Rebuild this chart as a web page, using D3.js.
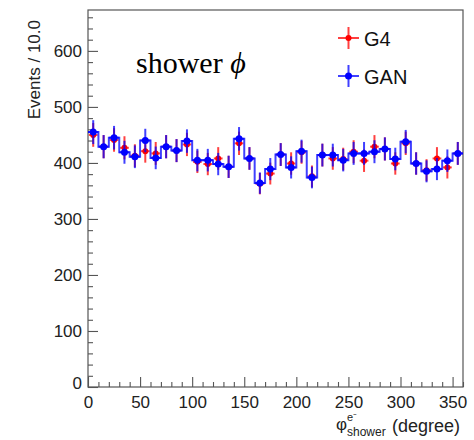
<!DOCTYPE html>
<html>
<head>
<meta charset="utf-8">
<script src="https://cdn.jsdelivr.net/npm/d3@7"></script>
<style>
  html, body { margin: 0; padding: 0; background: #fff; }
  svg { display: block; }
</style>
</head>
<body>
<svg id="chart" width="474" height="440"></svg>
<script>
// Bin edges: 36 bins of 10 degrees over [0, 360)
const binLowEdges = d3.range(0, 360, 10);
const binWidth = 10;

// Events per bin
const g4Counts  = [450, 429, 441, 427, 413, 421, 417, 429, 422, 433, 402, 398,
                   408, 393, 435, 408, 363, 381, 415, 399, 419, 376, 414, 408,
                   407, 420, 404, 429, 425, 399, 435, 399, 387, 408, 392, 417];
const ganCounts = [455, 429, 445, 419, 411, 440, 409, 429, 422, 439, 405, 405,
                   398, 393, 443, 408, 364, 389, 415, 392, 421, 374, 414, 414,
                   405, 417, 417, 420, 425, 407, 438, 399, 385, 389, 404, 417];

const xTicks = [0, 50, 100, 150, 200, 250, 300, 350];
const yTicks = [0, 100, 200, 300, 400, 500, 600];
const seriesNames = ["G4", "GAN"];

const W = 474, H = 440;
const margin = { left: 88, top: 10, right: 11, bottom: 53 };
const svg = d3.select("#chart");

const x = d3.scaleLinear().domain([0, 360]).range([margin.left, W - margin.right]);
const y = d3.scaleLinear().domain([0, 673]).range([H - margin.bottom, margin.top]);

const frameColor = "#555";
const sans = "'Liberation Sans', Arial, Helvetica, sans-serif";

// Frame
svg.append("rect")
  .attr("x", x(0)).attr("y", y(673))
  .attr("width", x(360) - x(0)).attr("height", y(0) - y(673))
  .attr("fill", "none").attr("stroke", frameColor).attr("stroke-width", 1.2);

// Axes with ticks pointing into the frame
const xAxis = d3.axisBottom(x).tickValues(xTicks).tickSize(-10).tickPadding(9)
  .tickFormat(d3.format("d"));
const gx = svg.append("g").attr("transform", `translate(0,${y(0)})`).call(xAxis);
const xMinor = d3.axisBottom(x).tickValues(d3.range(0, 361, 10).filter(v => v % 50 !== 0))
  .tickSize(-5).tickFormat("");
const gxm = svg.append("g").attr("transform", `translate(0,${y(0)})`).call(xMinor);

const yAxis = d3.axisLeft(y).tickValues(yTicks).tickSize(-10).tickPadding(6)
  .tickFormat(d3.format("d"));
const gy = svg.append("g").attr("transform", `translate(${x(0)},0)`).call(yAxis);
const yMinor = d3.axisLeft(y).tickValues(d3.range(0, 673, 20).filter(v => v % 100 !== 0))
  .tickSize(-5).tickFormat("");
const gym = svg.append("g").attr("transform", `translate(${x(0)},0)`).call(yMinor);

[gx, gxm, gy, gym].forEach(g => {
  g.select(".domain").remove();
  g.selectAll(".tick line").attr("stroke", frameColor).attr("stroke-width", 1.1);
  g.selectAll("text").attr("font-family", sans).attr("font-size", 17).attr("fill", "#222");
});
// The zero on the value axis sits a little low, as in ROOT
gy.selectAll(".tick").filter(d => d === 0).select("text").attr("dy", "0.1em");

// Axis titles
svg.append("text")
  .attr("transform", `translate(40,20) rotate(-90)`)
  .attr("text-anchor", "end")
  .attr("font-family", sans).attr("font-size", 17).attr("fill", "#222")
  .text("Events / 10.0");

const xt = svg.append("text")
  .attr("font-family", sans).attr("fill", "#222");
xt.append("tspan").attr("x", 336).attr("y", 430).attr("font-size", 17).text("φ");
xt.append("tspan").attr("x", 347).attr("y", 421).attr("font-size", 11).text("e⁻");
xt.append("tspan").attr("x", 347).attr("y", 436).attr("font-size", 12).text("shower");
xt.append("tspan").attr("x", 392).attr("y", 432).attr("font-size", 18).text("(degree)");

// Plot label
const lbl = svg.append("text")
  .attr("x", 136).attr("y", 73)
  .attr("font-family", "'Liberation Serif', 'Times New Roman', serif")
  .attr("font-size", 30).attr("fill", "#000");
lbl.append("tspan").text("shower ");
lbl.append("tspan").attr("font-style", "italic").text("ϕ");

// Histogram data rows
const rows = binLowEdges.map((lo, i) => ({
  lo, hi: lo + binWidth, mid: lo + binWidth / 2, g4: g4Counts[i], gan: ganCounts[i]
}));

const red = "#ff0000", blue = "#0000ff";

function drawPoints(key, color, r, xFrac) {
  const g = svg.append("g");
  rows.forEach(d => {
    const v = d[key], err = Math.sqrt(v);
    g.append("line")
      .attr("x1", x(d.mid)).attr("x2", x(d.mid))
      .attr("y1", y(v - err)).attr("y2", y(v + err))
      .attr("stroke", color).attr("stroke-width", 2).attr("stroke-opacity", 0.75);
    g.append("line")
      .attr("x1", x(d.mid - binWidth * xFrac)).attr("x2", x(d.mid + binWidth * xFrac))
      .attr("y1", y(v)).attr("y2", y(v))
      .attr("stroke", color).attr("stroke-width", 2).attr("stroke-opacity", 0.75);
    g.append("circle")
      .attr("cx", x(d.mid)).attr("cy", y(v)).attr("r", r).attr("fill", color);
  });
}

// G4: markers with error bars
drawPoints("g4", red, 3, 0.42);

// GAN: step outline plus markers with error bars
const stepPts = [];
rows.forEach(d => { stepPts.push([d.lo, d.gan]); stepPts.push([d.hi, d.gan]); });
svg.append("path")
  .attr("d", d3.line().x(p => x(p[0])).y(p => y(p[1]))(stepPts))
  .attr("fill", "none").attr("stroke", blue).attr("stroke-width", 2).attr("stroke-opacity", 0.75);
drawPoints("gan", blue, 3.5, 0.5);

// Legend
const legend = svg.append("g");
[{ name: seriesNames[0], color: red, yc: 38, r: 3 },
 { name: seriesNames[1], color: blue, yc: 76, r: 3.5 }].forEach(e => {
  legend.append("line").attr("x1", 338).attr("x2", 359).attr("y1", e.yc).attr("y2", e.yc)
    .attr("stroke", e.color).attr("stroke-width", 2).attr("stroke-opacity", 0.75);
  legend.append("line").attr("x1", 348.5).attr("x2", 348.5).attr("y1", e.yc - 11).attr("y2", e.yc + 11)
    .attr("stroke", e.color).attr("stroke-width", 2).attr("stroke-opacity", 0.75);
  legend.append("circle").attr("cx", 348.5).attr("cy", e.yc).attr("r", e.r).attr("fill", e.color);
  legend.append("text").attr("x", 364).attr("y", e.yc + 7.5)
    .attr("font-family", sans).attr("font-size", 20).attr("fill", "#111").text(e.name);
});
</script>
</body>
</html>
